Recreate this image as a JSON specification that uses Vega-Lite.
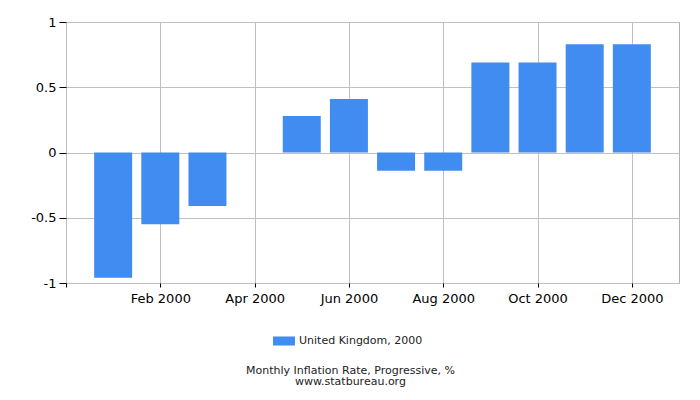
{
  "$schema": "https://vega.github.io/schema/vega-lite/v6.json",
  "width": 613,
  "height": 261,
  "autosize": {"type": "none"},
  "padding": {"left": 66, "top": 22, "right": 21, "bottom": 117},
  "background": "white",
  "config": {
    "font": "DejaVu Sans",
    "view": {"stroke": "#b0b0b0", "strokeWidth": 1},
    "axis": {
      "labelFont": "DejaVu Sans",
      "labelFontSize": 13,
      "labelColor": "#000000",
      "gridColor": "#c0c0c0",
      "gridWidth": 1,
      "tickColor": "#000000",
      "domain": false,
      "title": null
    }
  },
  "title": {
    "text": "Monthly Inflation Rate, Progressive, %",
    "subtitle": "www.statbureau.org",
    "orient": "bottom",
    "anchor": "middle",
    "dx": -22,
    "offset": 19,
    "font": "DejaVu Sans",
    "fontSize": 11,
    "fontWeight": "normal",
    "color": "#222222",
    "subtitleFont": "DejaVu Sans",
    "subtitleFontSize": 11,
    "subtitleColor": "#222222",
    "subtitlePadding": 0
  },
  "data": {
    "values": [
      {"month": 1, "value": -0.96, "series": "United Kingdom, 2000"},
      {"month": 2, "value": -0.55, "series": "United Kingdom, 2000"},
      {"month": 3, "value": -0.41, "series": "United Kingdom, 2000"},
      {"month": 4, "value": 0, "series": "United Kingdom, 2000"},
      {"month": 5, "value": 0.28, "series": "United Kingdom, 2000"},
      {"month": 6, "value": 0.41, "series": "United Kingdom, 2000"},
      {"month": 7, "value": -0.14, "series": "United Kingdom, 2000"},
      {"month": 8, "value": -0.14, "series": "United Kingdom, 2000"},
      {"month": 9, "value": 0.69, "series": "United Kingdom, 2000"},
      {"month": 10, "value": 0.69, "series": "United Kingdom, 2000"},
      {"month": 11, "value": 0.83, "series": "United Kingdom, 2000"},
      {"month": 12, "value": 0.83, "series": "United Kingdom, 2000"}
    ]
  },
  "mark": {"type": "bar", "size": 38},
  "encoding": {
    "x": {
      "field": "month",
      "type": "quantitative",
      "scale": {"domain": [0, 13], "nice": false, "zero": false, "padding": 0},
      "axis": {
        "values": [0, 2, 4, 6, 8, 10, 12],
        "labelExpr": "datum.value == 0 ? '' : ['', 'Jan', 'Feb', 'Mar', 'Apr', 'May', 'Jun', 'Jul', 'Aug', 'Sep', 'Oct', 'Nov', 'Dec'][datum.value] + ' 2000'",
        "tickSize": 4,
        "labelPadding": 5
      }
    },
    "y": {
      "field": "value",
      "type": "quantitative",
      "scale": {"domain": [-1, 1], "nice": false},
      "axis": {
        "values": [-1, -0.5, 0, 0.5, 1],
        "labelExpr": "'' + datum.value",
        "tickSize": 7,
        "labelPadding": 3
      }
    },
    "color": {
      "field": "series",
      "type": "nominal",
      "scale": {"range": ["#418cf0"]},
      "legend": {
        "title": null,
        "orient": "none",
        "legendX": 207,
        "legendY": 308,
        "symbolType": "M-1,-0.41L1,-0.41L1,0.41L-1,0.41Z",
        "symbolSize": 484,
        "symbolStrokeWidth": 0,
        "labelFont": "DejaVu Sans",
        "labelFontSize": 11,
        "labelColor": "#222222"
      }
    }
  }
}
